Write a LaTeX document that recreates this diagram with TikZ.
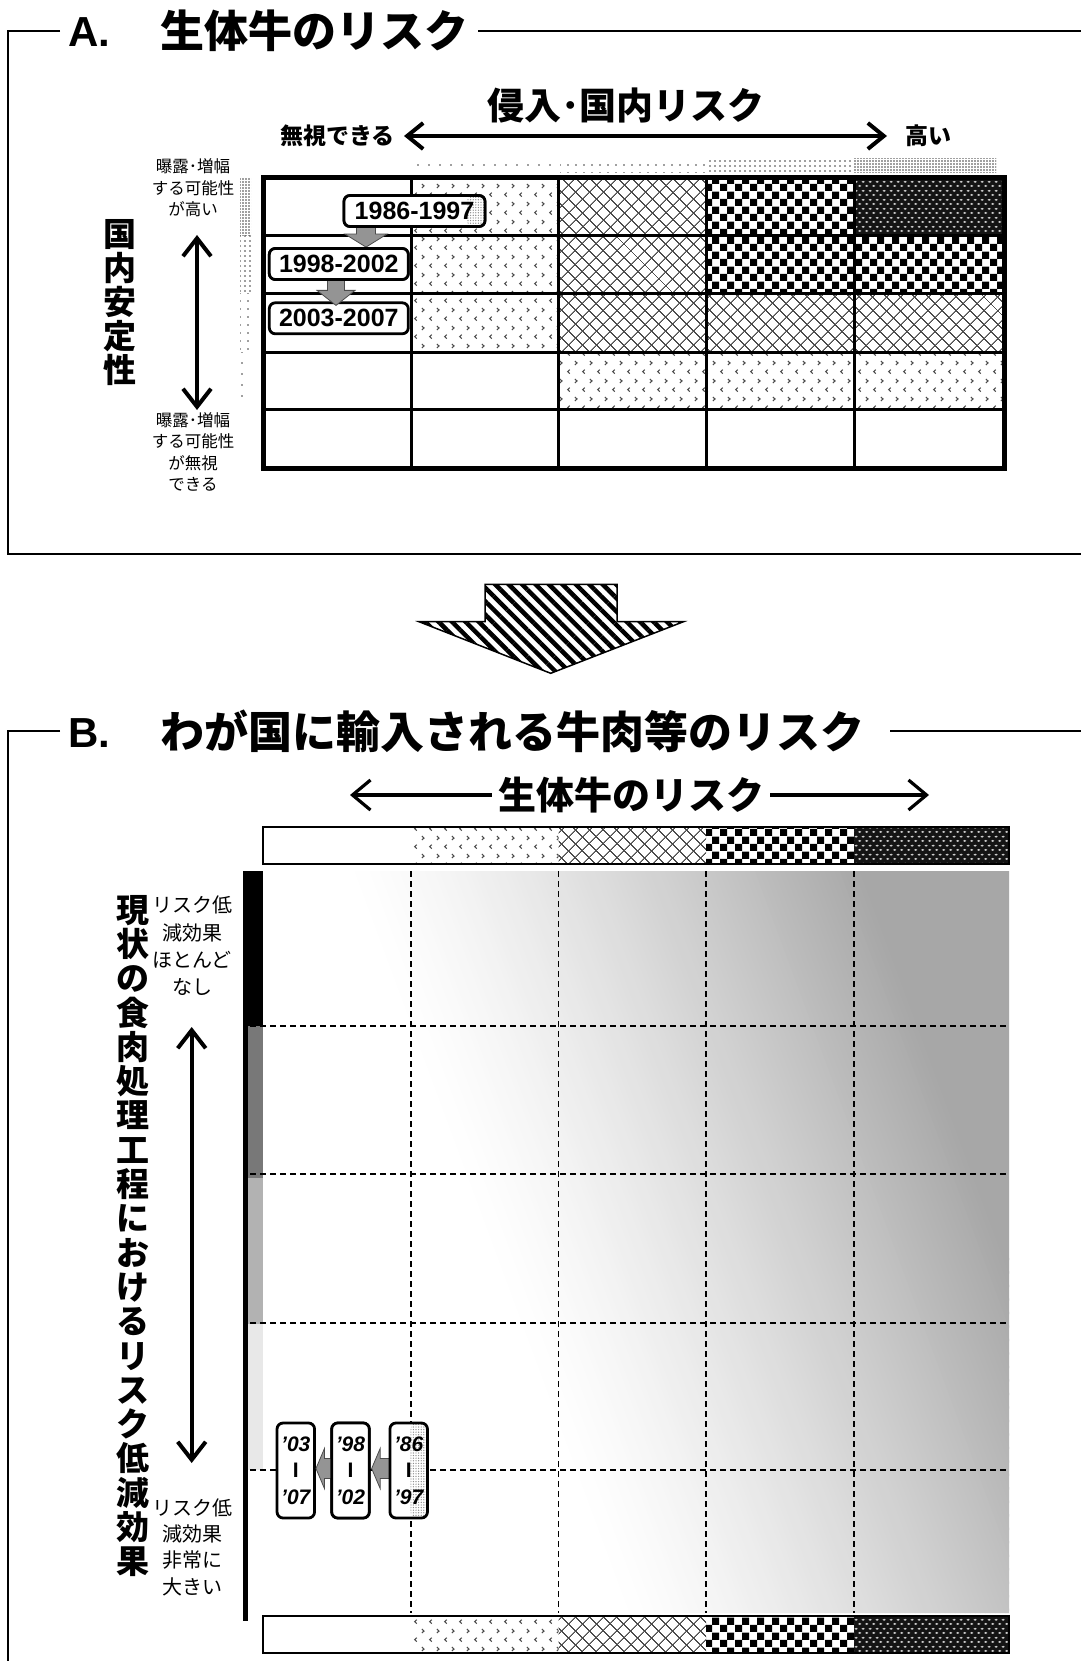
\documentclass[tikz,border=0pt]{standalone}
\usepackage{fontspec}
\setmainfont{Liberation Sans}
\newfontfamily\jp{Noto Sans CJK JP}
\usetikzlibrary{patterns,patterns.meta,arrows.meta,calc}

\tikzdeclarepattern{
  name=chevpat,
  type=uncolored,
  bounding box={(0pt,0pt) and (15.3pt,17.6pt)},
  tile size={(15.3pt,17.6pt)},
  code={
    \draw[line width=1.1pt] (5pt,2.4pt) -- (2.8pt,4.4pt) -- (5pt,6.4pt);
    \draw[line width=1.1pt] (10.3pt,11.2pt) -- (12.5pt,13.2pt) -- (10.3pt,15.2pt);
  }
}
\tikzdeclarepattern{
  name=checkpat,
  type=uncolored,
  bounding box={(0pt,0pt) and (15pt,15pt)},
  tile size={(15pt,15pt)},
  code={
    \fill (0pt,0pt) rectangle (7.5pt,7.5pt);
    \fill (7.5pt,7.5pt) rectangle (15pt,15pt);
  }
}
\tikzdeclarepattern{
  name=ovalpat,
  type=uncolored,
  bounding box={(0pt,0pt) and (7.4pt,8.6pt)},
  tile size={(7.4pt,8.6pt)},
  code={
    \fill (1.85pt,2.15pt) ellipse [x radius=1.8pt,y radius=1.05pt];
    \fill (5.55pt,6.45pt) ellipse [x radius=1.8pt,y radius=1.05pt];
  }
}

\begin{document}
\begin{tikzpicture}[x=1pt,y=-1pt,
  frameline/.style={line width=1.8pt,black},
  pchev/.style={pattern=chevpat,pattern color=black!70},
  phatch/.style={pattern={Hatch[distance=10.5pt,angle=45,line width=1.1pt]},pattern color=black!70},
  pcheck/.style={pattern=checkpat,pattern color=black},
  pdark/.style={preaction={fill=black!92},pattern=ovalpat,pattern color=black!20},
  grayarrow/.style={fill=black!42,draw=black!70,line width=0.8pt},
  yearA/.style={draw,line width=2.8pt,rounded corners=6pt,fill=white,inner sep=0pt,
     minimum height=31pt,font=\bfseries\fontsize{25}{25}\selectfont},
  yearB/.style={draw,line width=2.8pt,rounded corners=6pt,fill=white,inner sep=0pt,
     minimum width=37.5pt,minimum height=95pt,align=center,font=\bfseries\fontsize{21}{26.5}\selectfont},
  gridash/.style={dash pattern=on 6pt off 4pt,line width=1.4pt},
  dblA/.style={line width=4pt,arrows={Straight Barb[length=16pt,width=26pt]-Straight Barb[length=16pt,width=26pt]}},
  dblV/.style={line width=4pt,arrows={Straight Barb[length=18pt,width=28pt]-Straight Barb[length=18pt,width=28pt]}},
  oneB/.style={line width=3.2pt,arrows={-Straight Barb[length=18pt,width=30pt]}},
  dotsp/.style={pattern={Dots[distance=#1,radius=0.8pt]},pattern color=black!75}
]
\useasboundingbox (0,0) rectangle (1081,1661);
\fill[white] (0,0) rectangle (1081,1661);

%================ PANEL A =================
\draw[frameline] (60,31) -- (8.3,31) -- (8.3,554) -- (1081,554);
\draw[frameline] (478,31) -- (1081,31);
\node[anchor=base west,inner sep=0pt,font=\bfseries\fontsize{42}{42}\selectfont] (tA) at (68,47) {A.};
\node[anchor=west,inner sep=0pt,font=\jp\bfseries\fontsize{44}{44}\selectfont] (tAj) at (160,31) {生体牛のリスク};

\node[inner sep=0pt,font=\jp\bfseries\fontsize{37}{37}\selectfont] (inv) at (626,106) {侵入･国内リスク};
\coordinate (aL) at (404,136);
\coordinate (aR) at (887,136);
\draw[dblA] (aL) -- (aR);
\node[anchor=east,inner sep=0pt,font=\jp\bfseries\fontsize{23}{23}\selectfont] (neg) at (395,136) {無視できる};
\node[anchor=west,inner sep=0pt,font=\jp\bfseries\fontsize{23}{23}\selectfont] (hi) at (905,136) {高い};

% stipple strips
\fill[dotsp=11pt] (413,159) rectangle (560,173);
\fill[dotsp=8pt] (560,159) rectangle (706,173);
\fill[dotsp=5pt] (706,159) rectangle (854,173);
\fill[dotsp=3pt] (854,159) rectangle (996,173);
\fill[dotsp=3pt] (240,178) rectangle (251,236);
\fill[dotsp=5pt] (240,236) rectangle (251,294);
\fill[dotsp=8pt] (240,294) rectangle (251,352);
\fill[dotsp=11pt] (240,352) rectangle (251,402);

% grid cells
\fill[pchev]  (411,178) rectangle (558.5,236);
\fill[phatch] (558.5,178) rectangle (706,236);
\fill[pcheck] (706,178) rectangle (854,236);
\fill[pdark]  (854,178) rectangle (1004.7,236);
\fill[pchev]  (411,236) rectangle (558.5,293.6);
\fill[phatch] (558.5,236) rectangle (706,293.6);
\fill[pcheck] (706,236) rectangle (854,293.6);
\fill[pcheck] (854,236) rectangle (1004.7,293.6);
\fill[pchev]  (411,293.6) rectangle (558.5,352);
\fill[phatch] (558.5,293.6) rectangle (706,352);
\fill[phatch] (706,293.6) rectangle (854,352);
\fill[phatch] (854,293.6) rectangle (1004.7,352);
\fill[pchev]  (558.5,352) rectangle (706,409);
\fill[pchev]  (706,352) rectangle (854,409);
\fill[pchev]  (854,352) rectangle (1004.7,409);
\foreach \gx in {411,558.5,706,854} \draw[line width=3pt] (\gx,178) -- (\gx,468);
\foreach \gy in {236,293.6,352,409} \draw[line width=3pt] (263,\gy) -- (1004.7,\gy);
\draw[line width=5pt] (263,178) rectangle (1004.7,468);

% side labels A
\node[align=center,inner sep=0pt,font=\jp\fontsize{16.5}{21.7}\selectfont] (hiA) at (193,188) {曝露･増幅\\する可能性\\が高い};
\node[align=center,inner sep=0pt,font=\jp\fontsize{16.5}{21.2}\selectfont] (loA) at (193,452) {曝露･増幅\\する可能性\\が無視\\できる};
\coordinate (vAt) at (197,235);
\coordinate (vAb) at (197,410);
\draw[dblV] (vAt) -- (vAb);
\node[align=center,inner sep=0pt,font=\jp\bfseries\fontsize{33}{34}\selectfont] (stab) at (120,303) {国\\内\\安\\定\\性};

% year boxes A with arrows
\node[yearA,minimum width=141pt] (y86) at (414.5,211) {1986-1997};
\node[yearA,minimum width=139pt] (y98) at (338.8,264) {1998-2002};
\node[yearA,minimum width=139pt] (y03) at (338.8,318.3) {2003-2007};
\coordinate (A1x) at (366,0);
\coordinate (A2x) at (336,0);
\coordinate (T1) at (A1x |- y98.north);
\coordinate (T2) at ($(A2x |- y03.north)+(0,4)$);
\draw[grayarrow] ($(T1)+(-9.5,-30)$) -- ($(T1)+(-9.5,-13)$) -- ($(T1)+(-21,-13)$) -- (T1)
   -- ($(T1)+(21,-13)$) -- ($(T1)+(9.5,-13)$) -- ($(T1)+(9.5,-30)$) -- cycle;
\draw[grayarrow] ($(T2)+(-8.5,-30)$) -- ($(T2)+(-8.5,-15)$) -- ($(T2)+(-19,-15)$) -- (T2)
   -- ($(T2)+(19,-15)$) -- ($(T2)+(8.5,-15)$) -- ($(T2)+(8.5,-30)$) -- cycle;
\node[yearA,minimum width=141pt,
  path picture={\fill[pattern={Dots[distance=2.6pt,radius=0.7pt]},pattern color=black!45]
   ($(path picture bounding box.north east)+(-18,0)$) rectangle (path picture bounding box.south east);}]
  (y86b) at (414.5,211) {1986-1997};
\node[yearA,minimum width=139pt] (y98b) at (338.8,264) {1998-2002};

% big hatched arrow
\draw[line width=1.5pt,pattern={Lines[angle=-45,distance=9.5pt,line width=4.5pt]},pattern color=black]
  (485,584.3) -- (617,584.3) -- (617,621.7) -- (683.5,621.7) -- (550.7,673.3) -- (419,621.7) -- (485,621.7) -- cycle;

%================ PANEL B =================
\draw[frameline] (60,731) -- (8.3,731) -- (8.3,1661);
\draw[frameline] (890,731) -- (1081,731);
\node[anchor=base west,inner sep=0pt,font=\bfseries\fontsize{42}{42}\selectfont] (tB) at (68,747) {B.};
\node[anchor=west,inner sep=0pt,font=\jp\bfseries\fontsize{44}{44}\selectfont] (tBj) at (160,731) {わが国に輸入される牛肉等のリスク};

\node[inner sep=0pt,font=\jp\bfseries\fontsize{38}{38}\selectfont] (bl) at (631,795) {生体牛のリスク};
\coordinate (bLt) at (350,795);
\coordinate (bRt) at (929,795);
\draw[oneB,shorten <=6pt] (bl.west) -- (bLt);
\draw[oneB,shorten <=6pt] (bl.east) -- (bRt);

% gradient area
\begin{scope}
\clip (263,871) rectangle (1009,1613);
\fill[white] (263,871) rectangle (1009,1613);
\foreach \u in {345,350,...,860} {
  \pgfmathsetmacro\pc{((\u-345)/515)^1.3*34.5}
  \fill[black!\pc] (\u,871) -- (\u+5.6,871) -- (\u+280.6,1613) -- (\u+275,1613) -- cycle;
}
\fill[black!34.5] (865,871) -- (1400,871) -- (1675,1613) -- (1140,1613) -- cycle;
\end{scope}

% bars
\foreach \by/\bh in {827/864,1616/1653} {
  \fill[white] (263,\by) rectangle (411,\bh);
  \fill[pchev] (411,\by) rectangle (558.5,\bh);
  \fill[phatch] (558.5,\by) rectangle (706,\bh);
  \fill[pcheck] (706,\by) rectangle (854,\bh);
  \fill[pdark] (854,\by) rectangle (1009,\bh);
  \draw[line width=1.5pt] (263,\by) rectangle (1009,\bh);
}

% left shaded bar
\fill[black] (246,871) rectangle (263,1026);
\fill[black!53] (246,1026) rectangle (263,1178);
\fill[black!30] (246,1178) rectangle (263,1324);
\fill[black!9] (246,1324) rectangle (263,1470);
\draw[line width=4.5pt] (245.5,871) -- (245.5,1621);

% dashed grid
\foreach \gx in {411,558.5,706,854} \draw[gridash] (\gx,871) -- (\gx,1613);
\foreach \gy in {1026,1174,1323,1470} \draw[gridash] (250,\gy) -- (1009,\gy);

% left labels B
\node[align=center,inner sep=0pt,font=\jp\bfseries\fontsize{33}{34.3}\selectfont] (vB) at (133,1236)
  {現\\状\\の\\食\\肉\\処\\理\\工\\程\\に\\お\\け\\る\\リ\\ス\\ク\\低\\減\\効\\果};
\node[align=center,inner sep=0pt,font=\jp\fontsize{20}{27.4}\selectfont] (upB) at (192,946) {リスク低\\減効果\\ほとんど\\なし};
\node[align=center,inner sep=0pt,font=\jp\fontsize{20}{26.4}\selectfont] (loB) at (192,1547) {リスク低\\減効果\\非常に\\大きい};
\coordinate (vBt) at (191.7,1027);
\coordinate (vBb) at (191.7,1463);
\draw[dblV] (vBt) -- (vBb);

% year boxes B with arrows
\node[yearB] (b03) at (295.8,1470.5) {{\itshape ’03}\\I\\{\itshape ’07}};
\node[yearB] (b98) at (350.5,1470.5) {{\itshape ’98}\\I\\{\itshape ’02}};
\coordinate (Ta) at ($(b98.east)+(1,-2)$);
\coordinate (Tb) at ($(b03.east)+(0,-2)$);
\draw[grayarrow] (Ta) -- ($(Ta)+(8.5,-20)$) -- ($(Ta)+(8.5,-10)$) -- ($(Ta)+(24,-10)$)
   -- ($(Ta)+(24,10)$) -- ($(Ta)+(8.5,10)$) -- ($(Ta)+(8.5,20)$) -- cycle;
\draw[grayarrow] (Tb) -- ($(Tb)+(8.5,-20)$) -- ($(Tb)+(8.5,-10)$) -- ($(Tb)+(21,-10)$)
   -- ($(Tb)+(21,10)$) -- ($(Tb)+(8.5,10)$) -- ($(Tb)+(8.5,20)$) -- cycle;
\node[yearB] (b98x) at (350.5,1470.5) {{\itshape ’98}\\I\\{\itshape ’02}};
\node[yearB,
  path picture={\fill[pattern={Dots[distance=2.6pt,radius=0.7pt]},pattern color=black!45]
   ($(path picture bounding box.north)+(2,0)$) rectangle (path picture bounding box.south east);}]
  (b86) at (408.7,1470.5) {{\itshape ’86}\\I\\{\itshape ’97}};
\end{tikzpicture}
\end{document}
